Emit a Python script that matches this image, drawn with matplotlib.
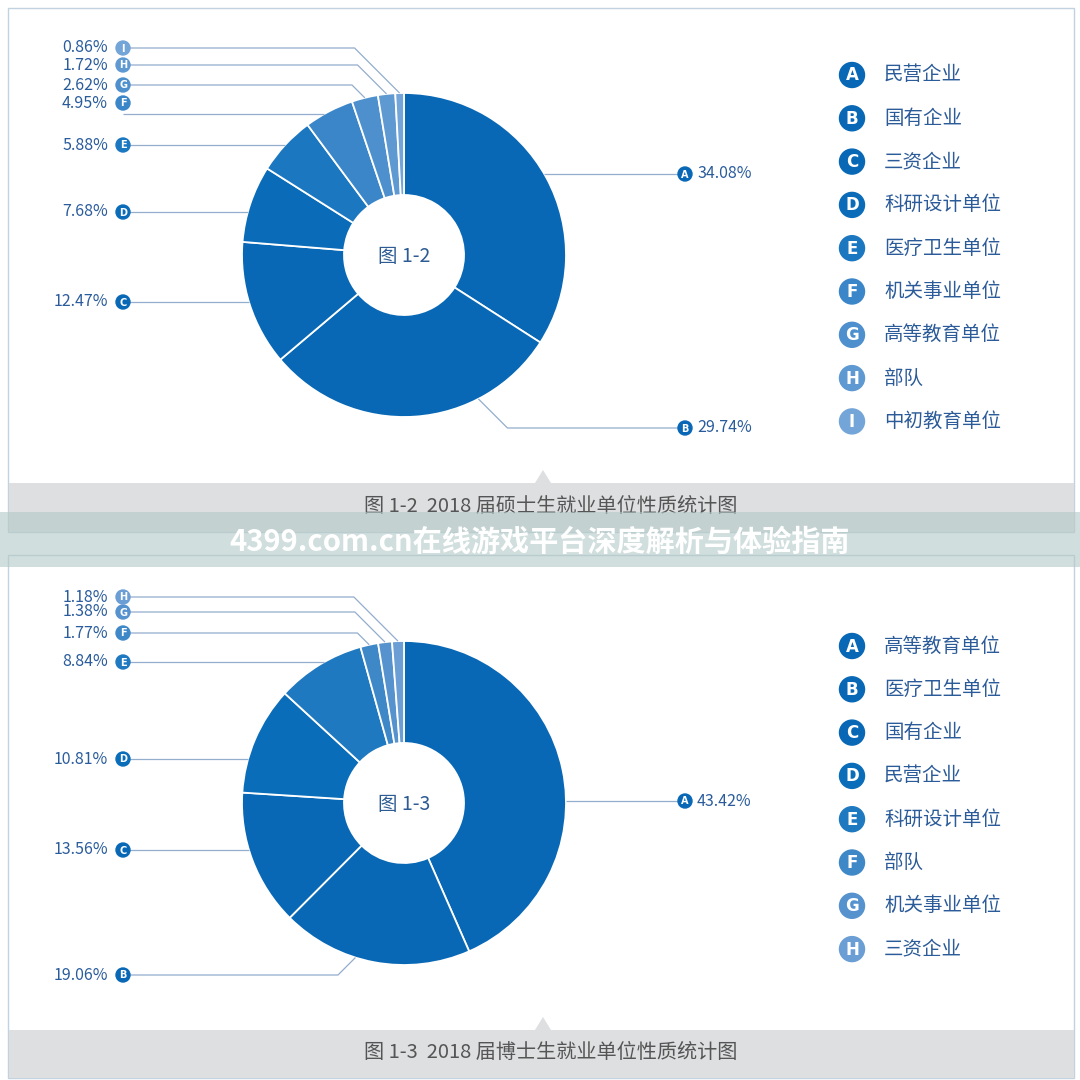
import numpy as np
import matplotlib
matplotlib.use('Agg')
import matplotlib.pyplot as plt
from matplotlib.patches import Rectangle, Circle, Polygon

plt.rcParams['font.family'] = ['Noto Sans CJK SC', 'DejaVu Sans']

# ---- data ----
letters_1 = list('ABCDEFGHI')
cats_1 = ['民营企业', '国有企业', '三资企业', '科研设计单位', '医疗卫生单位',
          '机关事业单位', '高等教育单位', '部队', '中初教育单位']
vals_1 = [34.08, 29.74, 12.47, 7.68, 5.88, 4.95, 2.62, 1.72, 0.86]

letters_2 = list('ABCDEFGH')
cats_2 = ['高等教育单位', '医疗卫生单位', '国有企业', '民营企业', '科研设计单位',
          '部队', '机关事业单位', '三资企业']
vals_2 = [43.42, 19.06, 13.56, 10.81, 8.84, 1.77, 1.38, 1.18]

centers_txt = ['图 1-2', '图 1-3']
captions = ['图 1-2  2018 届硕士生就业单位性质统计图', '图 1-3  2018 届博士生就业单位性质统计图']
watermark = '4399.com.cn在线游戏平台深度解析与体验指南'

colors_1 = ['#0868b5', '#0868b5', '#0868b5', '#0a6cb8', '#1b77c0', '#3a86c8',
            '#4e90cd', '#5f99d2', '#74a5d8']
colors_2 = ['#0868b5', '#0868b5', '#0868b5', '#0a6db9', '#1f79c0', '#3f88c8',
            '#5692ce', '#6a9ed4']

# label layout: (side, text y, line y, mode, attach fraction)
layout_1 = [('R', 174, 174, 'h', .5), ('R', 428, 428, 'e', .28),
            ('L', 302, 302, 'h', .5), ('L', 212, 212, 'h', .5),
            ('L', 145, 145, 'h', .5), ('L', 103, 114, 'h', .5),
            ('L', 85, 85, 'e', .5), ('L', 65, 65, 'e', .5), ('L', 48, 48, 'e', .5)]
layout_2 = [('R', 801, 801, 'h', .5), ('L', 975, 975, 'e', .6),
            ('L', 850, 850, 'h', .5), ('L', 759, 759, 'h', .5),
            ('L', 662, 662, 'h', .5), ('L', 633, 633, 'e', .5),
            ('L', 612, 612, 'e', .5), ('L', 597, 597, 'e', .5)]

TXT = '#2a5c9c'
LINE = '#93adcc'
GRAY = '#dddfe0'
BORDER = '#c3d2e0'

fig = plt.figure(figsize=(10.8, 10.8), dpi=100)
ax = fig.add_axes([0, 0, 1, 1])


def donut(vals, letters, cats, colors, layout, cx, cy, leg_y0):
    R = 162
    wedges, _ = ax.pie(vals, colors=colors, radius=R, center=(cx, cy),
                       startangle=-90, counterclock=True,
                       wedgeprops=dict(width=102, edgecolor='white', linewidth=1.3),
                       frame=True)
    for w in wedges:
        w.set_zorder(2)
    for i, (w, lt, v, col) in enumerate(zip(wedges, letters, vals, colors)):
        side, ty, ly, mode, frac = layout[i]
        sgn = 1 if side == 'R' else -1
        lx = 685 if side == 'R' else 123
        if mode == 'h':
            px = cx + sgn * np.sqrt(max(R ** 2 - (ly - cy) ** 2, 0))
            xs, ys = [lx, px], [ly, ly]
        else:
            p1, p2 = -w.theta1, -w.theta2
            phi = np.radians(p1 + frac * (p2 - p1))
            px, py = cx + R * np.cos(phi), cy - R * np.sin(phi)
            ex = px + sgn * abs(py - ly)
            xs, ys = [lx, ex, px], [ly, ly, py]
        ax.plot(xs, ys, color=LINE, lw=0.9, zorder=3, solid_capstyle='butt')
        ax.add_patch(Circle((lx, ty), 7, color=col, zorder=4))
        ax.text(lx, ty + 0.5, lt, color='white', fontsize=7, fontweight='bold',
                ha='center', va='center', zorder=5, family='DejaVu Sans')
        if side == 'R':
            ax.text(697, ty, f'{v:.2f}%', color=TXT, fontsize=11.5,
                    ha='left', va='center', zorder=5)
        else:
            ax.text(108, ty, f'{v:.2f}%', color=TXT, fontsize=11.5,
                    ha='right', va='center', zorder=5)
        # legend
        gy = leg_y0 + i * 43.3
        ax.add_patch(Circle((852, gy), 12.5, color=col, zorder=4))
        ax.text(852, gy + 0.5, lt, color='white', fontsize=12, fontweight='bold',
                ha='center', va='center', zorder=5, family='DejaVu Sans')
        ax.text(884, gy, cats[i], color='#2b5b98', fontsize=14,
                ha='left', va='center', zorder=5)


# panels
ax.add_patch(Rectangle((8, 8), 1066, 524, facecolor='white', edgecolor=BORDER,
                       lw=1, zorder=0))
ax.add_patch(Rectangle((8, 555), 1066, 523, facecolor='white', edgecolor=BORDER,
                       lw=1, zorder=0))
for top, cap in [(483, captions[0]), (1030, captions[1])]:
    ax.add_patch(Rectangle((8.5, top), 1065, 48 if top > 1000 else 49,
                           facecolor=GRAY, edgecolor='none', zorder=1))
    ax.add_patch(Polygon([(535, top), (543, top - 13), (551, top)],
                         facecolor=GRAY, edgecolor='none', zorder=1))
    ax.text(551, top + 23, cap, color='#555555', fontsize=14.5, ha='center',
            va='center', zorder=2)

donut(vals_1, letters_1, cats_1, colors_1, layout_1, 404, 255, 75)
donut(vals_2, letters_2, cats_2, colors_2, layout_2, 404, 803, 646)

ax.text(404, 256, centers_txt[0], color='#2d5b93', fontsize=14, ha='center',
        va='center', zorder=5)
ax.text(404, 804, centers_txt[1], color='#2d5b93', fontsize=14, ha='center',
        va='center', zorder=5)

# watermark band
ax.add_patch(Rectangle((0, 512), 1080, 55, facecolor='#b4cbc8', alpha=0.62,
                       edgecolor='none', zorder=10))
ax.text(540, 542, watermark, color='white', fontsize=21, fontweight='bold',
        ha='center', va='center', zorder=11)

ax.set_xlim(0, 1080)
ax.set_ylim(1080, 0)
ax.set_aspect('equal')
ax.axis('off')

fig.savefig('out.png', dpi=100, facecolor='white')
